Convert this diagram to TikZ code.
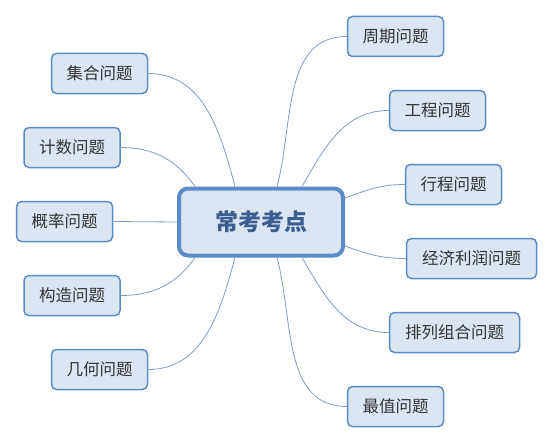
\documentclass[tikz,border=0pt]{standalone}
\usepackage{fontspec}
\newfontfamily\cjk{Noto Sans CJK SC}
\definecolor{boxfill}{HTML}{DCE6F2}
\definecolor{boxedge}{HTML}{5B8BC7}
\definecolor{linkc}{HTML}{7F9CC6}
\definecolor{maintext}{HTML}{3B5E91}
\definecolor{subtext}{HTML}{333333}
\tikzset{
  topic/.style={draw=boxedge, fill=boxfill, line width=1.5pt, rounded corners=5pt,
    minimum height=40pt, inner sep=0pt, text=subtext,
    font=\cjk\fontsize{16.5}{20}\selectfont},
  central/.style={draw=boxedge, fill=boxfill, line width=4pt, rounded corners=9pt,
    minimum width=164pt, minimum height=67pt, inner sep=0pt, text=maintext,
    font=\cjk\bfseries\fontsize{23}{28}\selectfont},
  link/.style={draw=linkc, line width=0.8pt}
}
\begin{document}
\begin{tikzpicture}[x=1pt,y=-1pt]
\useasboundingbox (0,0) rectangle (554,444);
\node[central] (c) at (261,222) {常考考点};
\node[topic, minimum width=96pt] (jh) at (99.5,73.5) {集合问题};
\node[topic, minimum width=96pt] (js) at (72,147.5) {计数问题};
\node[topic, minimum width=96pt] (gl) at (64.5,221.5) {概率问题};
\node[topic, minimum width=96pt] (gz) at (72,295.5) {构造问题};
\node[topic, minimum width=96pt] (jhe) at (99.5,369.5) {几何问题};
\node[topic, minimum width=96pt] (zq) at (395.5,36.5) {周期问题};
\node[topic, minimum width=96pt] (gc) at (437.5,110.5) {工程问题};
\node[topic, minimum width=96pt] (xc) at (453.5,184.5) {行程问题};
\node[topic, minimum width=130pt] (jj) at (471.5,258.5) {经济利润问题};
\node[topic, minimum width=130pt] (pl) at (454.5,332.5) {排列组合问题};
\node[topic, minimum width=96pt] (zz) at (395.5,406.5) {最值问题};
% connectors
\draw[link] (jh.east) to[out=0,in=105] ([xshift=-26pt]c.north);
\draw[link] (js.east) to[out=0,in=125] ([xshift=-66pt]c.north);
\draw[link] (gl.east) -- (c.west);
\draw[link] (gz.east) to[out=0,in=-125] ([xshift=-66pt]c.south);
\draw[link] (jhe.east) to[out=0,in=-105] ([xshift=-26pt]c.south);
\draw[link] (zq.west) to[out=180,in=75] ([xshift=16pt]c.north);
\draw[link] (gc.west) to[out=180,in=60] ([xshift=41pt]c.north);
\draw[link] (xc.west) to[out=180,in=20] ([yshift=24pt]c.east);
\draw[link] (jj.west) to[out=180,in=-20] ([yshift=-24pt]c.east);
\draw[link] (pl.west) to[out=180,in=-60] ([xshift=41pt]c.south);
\draw[link] (zz.west) to[out=180,in=-75] ([xshift=16pt]c.south);
\end{tikzpicture}
\end{document}
